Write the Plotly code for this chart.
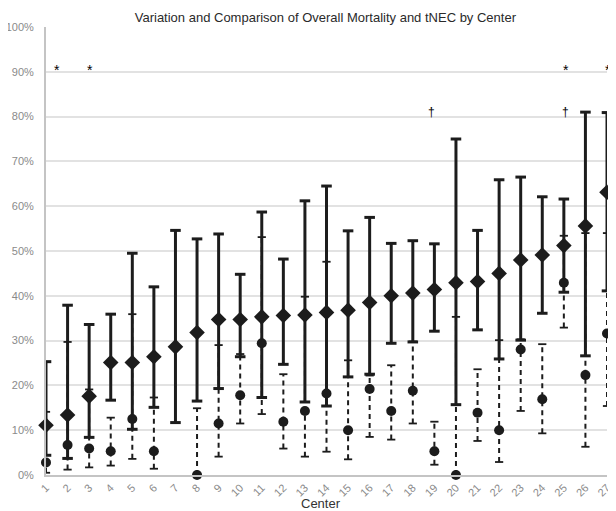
import plotly.graph_objects as go

centers = list(range(1, 28))
tick_labels = [str(c) for c in centers]
y_ticks = list(range(0, 101, 10))
y_tick_labels = [f"{v}%" for v in y_ticks]

mort = [11.1, 13.4, 17.6, 25.1, 25.1, 26.4, 28.6, 31.8, 34.7, 34.7, 35.3, 35.6, 35.7, 36.3,
        36.8, 38.5, 40.0, 40.6, 41.4, 42.9, 43.2, 45.0, 48.0, 49.1, 51.2, 55.6, 63.1]
mort_lo = [4.4, 3.7, 8.4, 16.7, 10.2, 15.1, 11.7, 16.5, 19.3, 26.4, 17.3, 24.7, 16.3, 15.4,
           21.9, 22.5, 29.4, 29.7, 32.1, 15.7, 32.4, 25.9, 30.1, 36.1, 40.8, 26.6, 41.1]
mort_hi = [25.3, 37.9, 33.6, 35.9, 49.5, 42.0, 54.6, 52.7, 53.8, 44.8, 58.7, 48.2, 61.2, 64.5,
           54.5, 57.5, 51.7, 52.3, 51.6, 75.0, 54.6, 65.9, 66.5, 62.1, 61.6, 81.0, 80.9]

tnec = [2.8, 6.7, 5.9, 5.3, 12.5, 5.3, None, 0.0, 11.5, 17.8, 29.4, 11.9, 14.3, 18.2,
        10.0, 19.2, 14.3, 18.8, 5.3, 0.0, 13.9, 10.0, 28.0, 16.9, 42.9, 22.3, 31.6]
tnec_lo = [0.5, 1.2, 1.7, 2.1, 3.6, 1.4, None, 0.0, 4.1, 11.5, 13.6, 5.9, 4.1, 5.2,
           3.5, 8.5, 7.9, 11.5, 2.3, 0.0, 7.6, 2.9, 14.3, 9.3, 32.9, 6.3, 15.4]
tnec_hi = [14.1, 29.7, 19.1, 12.8, 35.9, 17.3, None, 14.9, 29.0, 27.0, 53.1, 22.5, 39.8, 47.6,
           25.6, 22.2, 24.5, 29.8, 11.9, 35.3, 23.6, 30.1, 30.3, 29.2, 53.4, 54.0, 54.0]

# significance marks
marks_star = [1, 3, 25, 27]
marks_dagger = [19, 25]

INK = "#1c1c1c"
X_MIN, X_MAX = 1, 27


def vsegs(xs, lo, hi):
    X, Y = [], []
    for x, a, b in zip(xs, lo, hi):
        if a is None or b is None:
            continue
        X += [x, x, None]
        Y += [a, b, None]
    return X, Y


def caps(xs, vals, half):
    X, Y = [], []
    for x, v in zip(xs, vals):
        if v is None:
            continue
        X += [x - half, x + half, None]
        Y += [v, v, None]
    return X, Y


def to_paper(x):
    return (x - X_MIN) / (X_MAX - X_MIN)


fig = go.Figure()

# tNEC dashed CI
X, Y = vsegs(centers, tnec_lo, tnec_hi)
fig.add_trace(go.Scatter(x=X, y=Y, mode="lines", line=dict(color=INK, width=2, dash="5px,4px"),
                         cliponaxis=False, hoverinfo="skip"))
X, Y = caps(centers + centers, tnec_lo + tnec_hi, 0.19)
fig.add_trace(go.Scatter(x=X, y=Y, mode="lines", line=dict(color=INK, width=1.8),
                         cliponaxis=False, hoverinfo="skip"))

# mortality solid CI
X, Y = vsegs(centers, mort_lo, mort_hi)
fig.add_trace(go.Scatter(x=X, y=Y, mode="lines", line=dict(color=INK, width=3),
                         cliponaxis=False, hoverinfo="skip"))
X, Y = caps(centers + centers, mort_lo + mort_hi, 0.245)
fig.add_trace(go.Scatter(x=X, y=Y, mode="lines", line=dict(color=INK, width=3),
                         cliponaxis=False, hoverinfo="skip"))

# markers
fig.add_trace(go.Scatter(x=centers, y=tnec, mode="markers", name="tNEC",
                         marker=dict(symbol="circle", size=10, color=INK), cliponaxis=False))
fig.add_trace(go.Scatter(x=centers, y=mort, mode="markers", name="Mortality",
                         marker=dict(symbol="diamond", size=12, color=INK), cliponaxis=False))

star_dx = {1: 0.27, 3: -0.2, 25: 0.35, 27: 0.28}
for c in marks_star:
    fig.add_annotation(x=to_paper(c + star_dx[c]), y=90.3, text="*", showarrow=False,
                       font=dict(size=14, color="#000000", family="Liberation Sans, Arial"),
                       xref="paper", yref="y", yanchor="middle")
for c in marks_dagger:
    fig.add_annotation(x=to_paper(c + (0.1 if c == 19 else 0.35)), y=81.0, text="†",
                       showarrow=False,
                       font=dict(size=12, color="#000000", family="Liberation Sans, Arial"),
                       xref="paper", yref="y", yanchor="middle")

fig.add_annotation(x=0.49, y=-0.063, xref="paper", yref="paper", text="Center", showarrow=False,
                   font=dict(size=13, color="#333333"), yanchor="middle")

# the page body has an 8px margin: size the figure so it fits the 616x511 window
fig.update_layout(
    width=608, height=503,
    margin=dict(l=37.5, r=8.6, t=19.3, b=36.2, autoexpand=False),
    paper_bgcolor="white", plot_bgcolor="white",
    showlegend=False,
    font=dict(family="Liberation Sans, Arial, sans-serif", size=11, color="#8a8a8a"),
    title=dict(text="Variation and Comparison of Overall Mortality and tNEC by Center",
               x=0.522, xanchor="center", y=1 - 9 / 503, yanchor="middle",
               font=dict(size=13, color="#2a2a2a")),
    xaxis=dict(range=[X_MIN, X_MAX], tickvals=centers, ticktext=tick_labels, tickangle=-45,
               showgrid=False, zeroline=False, showline=True, linecolor="#c4c4c4", linewidth=2,
               ticks="", tickfont=dict(size=11, color="#8a8a8a")),
    yaxis=dict(range=[0, 100], tickvals=y_ticks, ticktext=y_tick_labels,
               showgrid=True, gridcolor="#e2e2e2", gridwidth=1.5, zeroline=False,
               showline=True, linecolor="#c4c4c4", linewidth=2, ticks="",
               ticklabelstandoff=8, tickfont=dict(size=11, color="#8a8a8a")),
)

fig.write_html("out.html")
